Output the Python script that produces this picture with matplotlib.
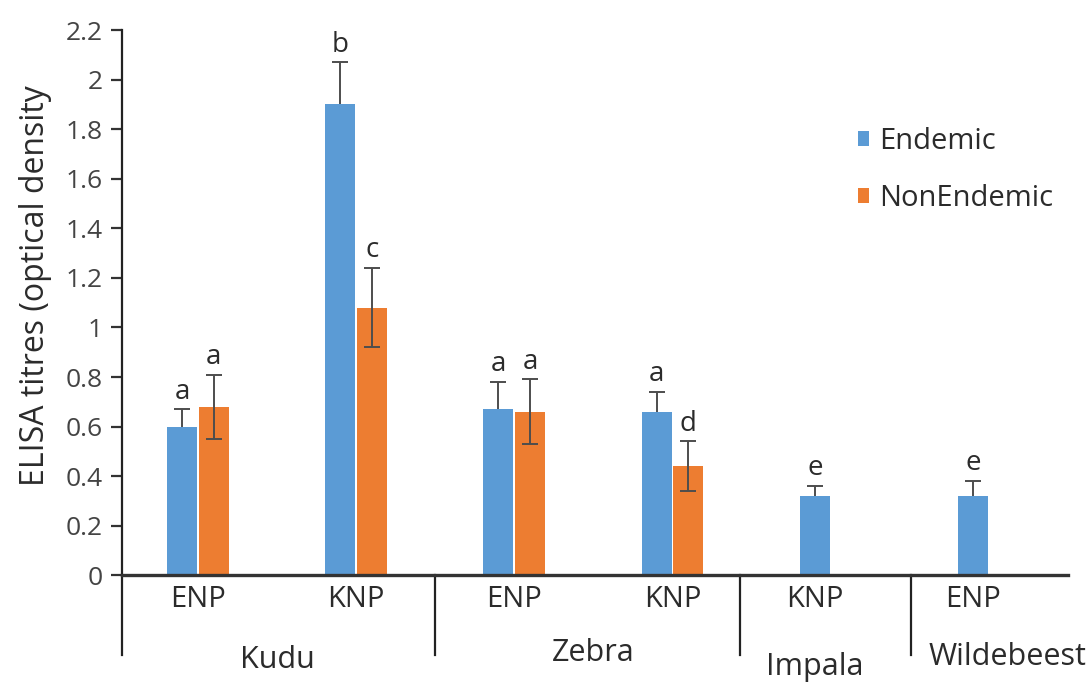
import matplotlib

matplotlib.use("Agg")
import matplotlib.pyplot as plt
import matplotlib.transforms as mtransforms
import numpy as np

plt.rcParams["font.family"] = ["Open Sans", "DejaVu Sans"]

# data
sites = ["ENP", "KNP", "ENP", "KNP", "KNP", "ENP"]
species = ["Kudu", "Zebra", "Impala", "Wildebeest"]
species_span = [(0, 1), (2, 3), (4, 4), (5, 5)]
endemic = [0.60, 1.90, 0.67, 0.66, 0.32, 0.32]
endemic_err = [0.07, 0.17, 0.11, 0.08, 0.04, 0.06]
endemic_letters = ["a", "b", "a", "a", "e", "e"]
nonendemic = [0.68, 1.08, 0.66, 0.44, None, None]
nonendemic_err = [0.13, 0.16, 0.13, 0.10, None, None]
nonendemic_letters = ["a", "c", "a", "d", None, None]

BLUE = "#5B9BD5"
ORANGE = "#ED7D31"
ERR = "#4d4d4d"
TXT = "#2b2b2b"
W = 0.19
OFF = 0.1

fig = plt.figure(figsize=(10.91, 6.84), dpi=100)
ax = fig.add_axes([0.1118, 0.159, 0.867, 0.797])

x = np.arange(len(sites), dtype=float)
has_ne = np.array([v is not None for v in nonendemic])
xb = x - OFF
xo = x[has_ne] + OFF
ne_vals = np.array([v for v in nonendemic if v is not None])
ne_errs = np.array([v for v in nonendemic_err if v is not None])

ax.bar(xb, endemic, W, color=BLUE, label="Endemic", zorder=2)
ax.bar(xo, ne_vals, W, color=ORANGE, label="NonEndemic", zorder=2)
# blue error bars sit behind the bars, orange ones in front
ax.errorbar(xb, endemic, yerr=endemic_err, fmt="none",
            ecolor=ERR, elinewidth=1.4, capsize=5.5, capthick=1.4, zorder=1)
ax.errorbar(xo, ne_vals, yerr=ne_errs, fmt="none",
            ecolor=ERR, elinewidth=1.4, capsize=5.5, capthick=1.4, zorder=3)

for xi, v, e, t in zip(xb, endemic, endemic_err, endemic_letters):
    ax.text(xi, v + e + 0.015, t, ha="center", va="bottom", fontsize=20, color=TXT)
for xi, v, e, t in zip(xo, ne_vals, ne_errs, [t for t in nonendemic_letters if t]):
    ax.text(xi, v + e + 0.015, t, ha="center", va="bottom", fontsize=20, color=TXT)

ax.set_ylim(0, 2.2)
ax.set_xlim(-0.48, 5.5)
yt = np.round(np.arange(0, 2.21, 0.2), 1)
ax.set_yticks(yt)
ax.set_yticklabels([f"{v:g}" for v in yt], fontsize=19, color="#444444")
ax.tick_params(axis="y", direction="out", length=8, width=1.6, pad=6, color="#333333")
ax.set_xticks([])
for s in ("top", "right"):
    ax.spines[s].set_visible(False)
ax.spines["left"].set_linewidth(1.6)
ax.spines["left"].set_color("#222222")
ax.spines["bottom"].set_linewidth(2.4)
ax.spines["bottom"].set_color("#333333")
ax.set_ylabel("ELISA titres (optical density", fontsize=23, color=TXT)
ax.yaxis.set_label_coords(-0.074, 0.532)

# category labels: centred on the drawn bars
trans = mtransforms.blended_transform_factory(ax.transData, ax.transAxes)
lab_x = np.where(has_ne, x, xb)
for xi, s in zip(lab_x, sites):
    ax.text(xi, -0.045, s, transform=trans, ha="center", va="center", fontsize=21, color=TXT)

# group dividers and species labels
div_x = [-0.48, 1.5, 3.43, 4.51]
for dx in div_x:
    ax.plot([dx, dx], [0, -0.147], transform=trans, color="#222222", lw=1.6, clip_on=False)
sp_y = [-0.155, -0.142, -0.168, -0.15]
sp_off = [0, 0, -0.1, 0.12]
for name, (a, b), yy, off in zip(species, species_span, sp_y, sp_off):
    ax.text((a + b) / 2 + off, yy, name, transform=trans, ha="center", va="center",
            fontsize=22, color=TXT)

ax.legend(loc="upper left", bbox_to_anchor=(0.75, 0.87), frameon=False, fontsize=21,
          handlelength=0.4, handleheight=0.4, labelspacing=0.95, handletextpad=0.35,
          labelcolor=TXT)

fig.savefig("out.png", dpi=100)
